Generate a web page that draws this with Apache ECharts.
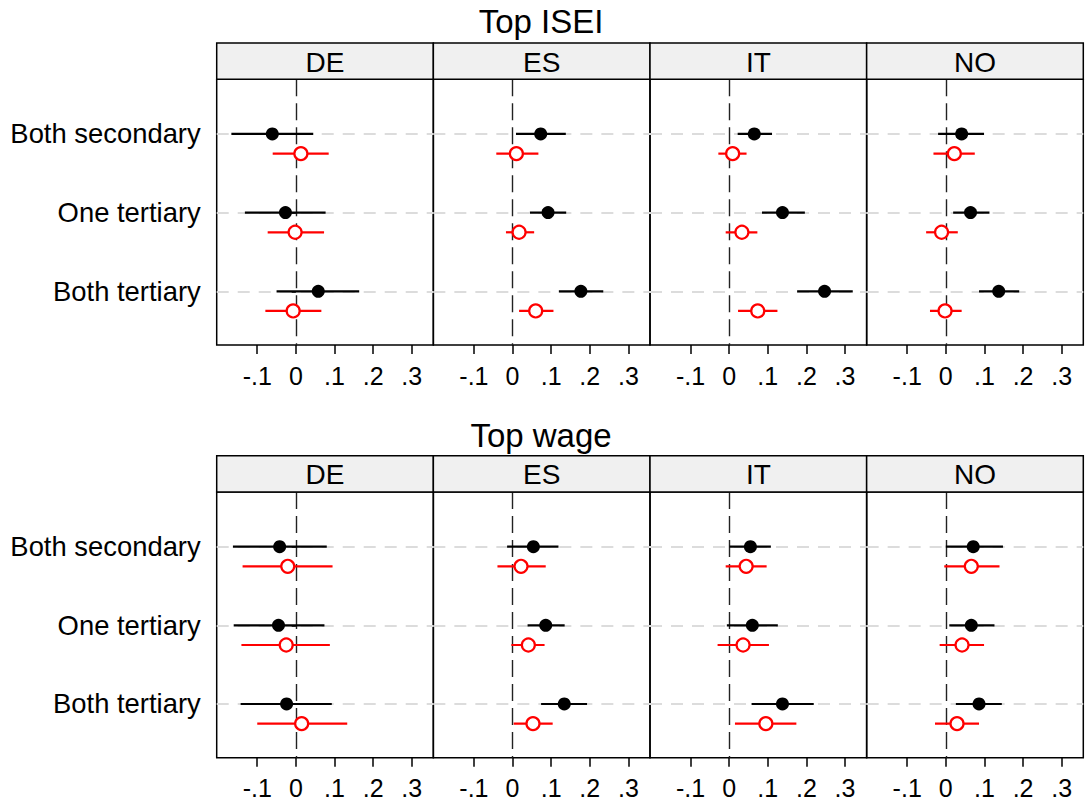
<!DOCTYPE html>
<html>
<head>
<meta charset="utf-8">
<script src="https://cdn.jsdelivr.net/npm/echarts@6/dist/echarts.min.js"></script>
<style>
html,body{margin:0;padding:0;background:#fff;}
#chart{width:1087px;height:807px;}
</style>
</head>
<body>
<div id="chart"></div>
<script>
// ---- data ----
const panels = ['Top ISEI', 'Top wage'];
const countries = ['DE', 'ES', 'IT', 'NO'];
const categories = ['Both secondary', 'One tertiary', 'Both tertiary'];
const tickValues = [-0.1, 0, 0.1, 0.2, 0.3];
const tickLabels = ['-.1', '0', '.1', '.2', '.3'];

// Top ISEI: per country (DE, ES, IT, NO), per category
const iseiBlackEst = [[-0.061, -0.027, 0.058], [0.073, 0.092, 0.177], [0.065, 0.138, 0.247], [0.041, 0.064, 0.137]];
const iseiBlackLo  = [[-0.167, -0.132, -0.050], [0.009, 0.045, 0.120], [0.022, 0.085, 0.176], [-0.020, 0.019, 0.086]];
const iseiBlackHi  = [[0.045, 0.077, 0.164], [0.138, 0.139, 0.235], [0.111, 0.196, 0.320], [0.099, 0.113, 0.190]];
const iseiRedEst   = [[0.013, -0.002, -0.007], [0.010, 0.017, 0.060], [0.009, 0.033, 0.074], [0.022, -0.011, -0.002]];
const iseiRedLo    = [[-0.060, -0.073, -0.079], [-0.042, -0.017, 0.017], [-0.028, -0.009, 0.023], [-0.032, -0.051, -0.041]];
const iseiRedHi    = [[0.085, 0.073, 0.066], [0.067, 0.056, 0.106], [0.045, 0.073, 0.125], [0.075, 0.031, 0.041]];

// Top wage
const wageBlackEst = [[-0.042, -0.045, -0.024], [0.054, 0.086, 0.134], [0.055, 0.060, 0.138], [0.071, 0.066, 0.086]];
const wageBlackLo  = [[-0.163, -0.161, -0.143], [-0.014, 0.039, 0.074], [0.001, -0.006, 0.058], [0.000, 0.009, 0.026]];
const wageBlackHi  = [[0.080, 0.074, 0.093], [0.119, 0.135, 0.193], [0.108, 0.126, 0.219], [0.148, 0.126, 0.145]];
const wageRedEst   = [[-0.021, -0.025, 0.015], [0.022, 0.041, 0.053], [0.044, 0.036, 0.095], [0.066, 0.042, 0.029]];
const wageRedLo    = [[-0.138, -0.141, -0.100], [-0.039, -0.003, 0.003], [-0.009, -0.030, 0.015], [-0.004, -0.016, -0.028]];
const wageRedHi    = [[0.095, 0.088, 0.133], [0.086, 0.083, 0.104], [0.097, 0.103, 0.174], [0.139, 0.099, 0.086]];

const panelData = [
  {bEst: iseiBlackEst, bLo: iseiBlackLo, bHi: iseiBlackHi, rEst: iseiRedEst, rLo: iseiRedLo, rHi: iseiRedHi},
  {bEst: wageBlackEst, bLo: wageBlackLo, bHi: wageBlackHi, rEst: wageRedEst, rLo: wageRedLo, rHi: wageRedHi}
];

// ---- layout ----
const FONT = '"Liberation Sans", Arial, Helvetica, sans-serif';
const facetLeft0 = 216.7;
const facetW = 216.65;
const plotTops = [79.3, 492];
const plotH = 265.7;
const stripH = 36.3;
const titleY = [21, 435];
const redOffset = 0.25;

const grids = [], xAxes = [], yAxes = [], series = [], graphics = [];

function fmtTick(v) {
  for (let i = 0; i < tickValues.length; i++) {
    if (Math.abs(tickValues[i] - v) < 1e-6) return tickLabels[i];
  }
  return '';
}

panels.forEach((pname, p) => {
  graphics.push({
    type: 'text', x: 541, y: titleY[p],
    style: {text: pname, fontSize: 33, fontFamily: FONT, fill: '#000', align: 'center', verticalAlign: 'middle'}
  });
  countries.forEach((c, k) => {
    const gi = grids.length;
    const left = facetLeft0 + k * facetW;
    grids.push({
      left: left, top: plotTops[p], width: facetW, height: plotH,
      show: true, borderColor: '#000', borderWidth: 1.5, backgroundColor: 'transparent'
    });
    graphics.push({
      type: 'rect', z: 10,
      shape: {x: left, y: plotTops[p] - stripH, width: facetW, height: stripH},
      style: {fill: '#f0f0f0', stroke: '#000', lineWidth: 1.5}
    });
    graphics.push({
      type: 'text', z: 11,
      x: left + facetW / 2, y: plotTops[p] - stripH / 2 + 1,
      style: {text: c, fontSize: 28, fontFamily: FONT, fill: '#000', align: 'center', verticalAlign: 'middle'}
    });
    xAxes.push({
      type: 'value', gridIndex: gi, min: -0.205, max: 0.356,
      axisLine: {show: false},
      splitLine: {show: false},
      axisTick: {show: true, customValues: tickValues, length: 9, lineStyle: {color: '#000', width: 1.5}},
      axisLabel: {show: true, customValues: tickValues, formatter: fmtTick, margin: 18,
                  fontSize: 25, fontFamily: FONT, color: '#000', showMinLabel: true, showMaxLabel: true}
    });
    const isFirst = k === 0;
    yAxes.push({
      type: 'value', gridIndex: gi, inverse: true, min: 0.305, max: 3.683,
      axisLine: {show: false},
      splitLine: {show: false},
      axisTick: {show: isFirst, customValues: [1, 2, 3], length: 10, lineStyle: {color: '#000', width: 1.5}},
      axisLabel: {show: isFirst, customValues: [1, 2, 3], margin: 16,
                  formatter: v => categories[Math.round(v) - 1] || '',
                  fontSize: 27.4, fontFamily: FONT, color: '#000'}
    });
    const d = panelData[p];
    // reference lines
    series.push({
      type: 'scatter', xAxisIndex: gi, yAxisIndex: gi, data: [], z: 1, silent: true,
      markLine: {
        silent: true, symbol: 'none', label: {show: false}, animation: false, z: 1,
        data: [
          {yAxis: 1, lineStyle: {color: '#dcdcdc', width: 2, type: [12, 9]}},
          {yAxis: 2, lineStyle: {color: '#dcdcdc', width: 2, type: [12, 9]}},
          {yAxis: 3, lineStyle: {color: '#dcdcdc', width: 2, type: [12, 9]}},
          {xAxis: 0, lineStyle: {color: '#222', width: 1.4, type: [17, 7]}}
        ]
      }
    });
    const ciSeries = (lo, hi, off, color) => ({
      type: 'custom', xAxisIndex: gi, yAxisIndex: gi, z: 3, silent: true,
      encode: {x: [0, 1], y: 2},
      data: categories.map((_, i) => [lo[k][i], hi[k][i], i + 1 + off]),
      renderItem: (params, api) => {
        const a = api.coord([api.value(0), api.value(2)]);
        const b = api.coord([api.value(1), api.value(2)]);
        return {type: 'line', shape: {x1: a[0], y1: a[1], x2: b[0], y2: b[1]},
                style: {stroke: color, lineWidth: 2.2}};
      }
    });
    series.push(ciSeries(d.bLo, d.bHi, 0, '#000'));
    series.push(ciSeries(d.rLo, d.rHi, redOffset, '#ff0000'));
    series.push({
      type: 'scatter', xAxisIndex: gi, yAxisIndex: gi, z: 5, silent: true,
      symbol: 'circle', symbolSize: 13,
      itemStyle: {color: '#000', opacity: 1},
      data: categories.map((_, i) => [d.bEst[k][i], i + 1])
    });
    series.push({
      type: 'scatter', xAxisIndex: gi, yAxisIndex: gi, z: 5, silent: true,
      symbol: 'circle', symbolSize: 13,
      itemStyle: {color: '#fff', borderColor: '#ff0000', borderWidth: 2.2, opacity: 1},
      data: categories.map((_, i) => [d.rEst[k][i], i + 1 + redOffset])
    });
  });
});

const chart = echarts.init(document.getElementById('chart'), null, {renderer: 'svg'});
chart.setOption({
  animation: false,
  backgroundColor: '#fff',
  grid: grids,
  xAxis: xAxes,
  yAxis: yAxes,
  series: series,
  graphic: graphics
});
</script>
</body>
</html>
